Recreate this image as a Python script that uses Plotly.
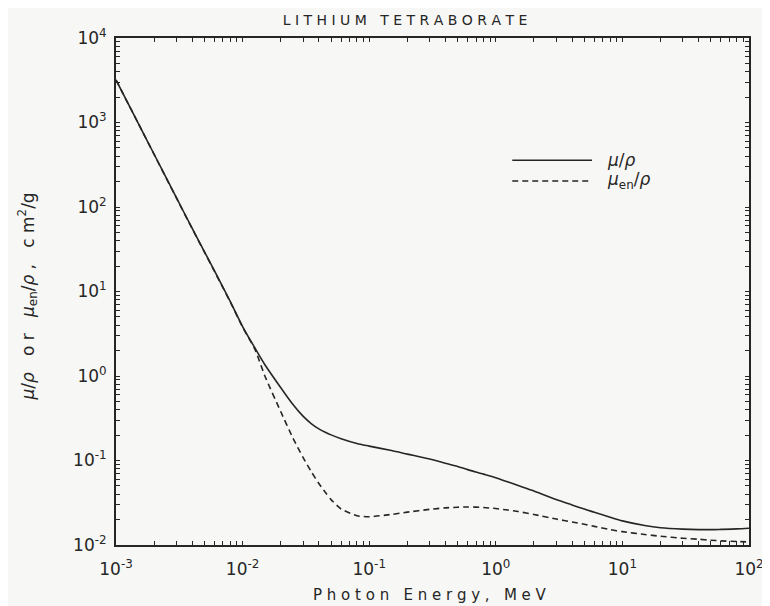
import plotly.graph_objects as go

# Photon energy, MeV
energy = [0.001, 0.0015, 0.002, 0.003, 0.004, 0.005, 0.006, 0.008, 0.01, 0.0125,
          0.015, 0.02, 0.025, 0.03, 0.035, 0.04, 0.045, 0.05, 0.06, 0.08, 0.1, 0.15, 0.2, 0.3, 0.4,
          0.5, 0.6, 0.8, 1.0, 1.25, 1.5, 2.0, 3.0, 4.0, 5.0, 6.0, 8.0, 10.0,
          15.0, 20.0, 30.0, 40.0, 50.0, 60.0, 80.0, 100.0]

# mass attenuation coefficient mu/rho, cm2/g
mu_rho = [3190, 977, 421, 129, 55.7, 29.5, 17.5, 7.6, 3.85, 2.15,
          1.36, 0.73, 0.46, 0.335, 0.272, 0.237, 0.216, 0.201, 0.181, 0.159, 0.148, 0.131, 0.119, 0.104, 0.093,
          0.085, 0.078, 0.069, 0.0625, 0.0556, 0.0506, 0.0436, 0.0345, 0.0298, 0.0266, 0.0244, 0.0213, 0.0193,
          0.0170, 0.0160, 0.0154, 0.0152, 0.0152, 0.0153, 0.0155, 0.0158]

# mass energy-absorption coefficient mu_en/rho, cm2/g
mu_en_rho = [3180, 975, 419, 128, 55.3, 29.2, 17.3, 7.5, 3.78, 2.08,
             1.0, 0.38, 0.184, 0.109, 0.073, 0.0535, 0.042, 0.0344, 0.0267, 0.0222, 0.0216, 0.0230, 0.0245, 0.0264, 0.0275,
             0.0280, 0.0282, 0.0278, 0.0270, 0.0259, 0.0249, 0.0230, 0.0203, 0.0187, 0.0176, 0.0166, 0.0152, 0.0144,
             0.0133, 0.0127, 0.0120, 0.0117, 0.0114, 0.0112, 0.0110, 0.01086]

x_decades = [-3, -2, -1, 0, 1, 2]
y_decades = [-2, -1, 0, 1, 2, 3, 4]
minor_mult = [2, 3, 4, 5, 6, 7, 8, 9]


def log_ticks(decades):
    vals = [10.0 ** d for d in decades]
    text = ["10<sup>%d</sup>" % d for d in decades]
    for d in decades[:-1]:
        for m in minor_mult:
            vals.append(m * 10.0 ** d)
            text.append("")
    return vals, text


x_tickvals, x_ticktext = log_ticks(x_decades)
y_tickvals, y_ticktext = log_ticks(y_decades)

ink = "#262626"
bg = "#f7f7f5"
fontfam = "DejaVu Sans, Verdana, sans-serif"
dash = "6px,4px"

fig = go.Figure()
fig.add_trace(go.Scatter(x=energy, y=mu_rho, mode="lines", name="μ/ρ",
                         line=dict(color=ink, width=1.6, shape="spline", smoothing=0.8),
                         showlegend=False))
fig.add_trace(go.Scatter(x=energy, y=mu_en_rho, mode="lines", name="μen/ρ",
                         line=dict(color=ink, width=1.6, dash=dash, shape="spline", smoothing=0.6),
                         showlegend=False))

axis = dict(
    type="log", showgrid=False, zeroline=False, automargin=False,
    showline=True, linecolor=ink, linewidth=2, mirror="ticks",
    ticks="inside", ticklen=4, tickwidth=1.3, tickcolor=ink,
    tickfont=dict(family=fontfam, size=17, color=ink),
)

fig.update_xaxes(range=[-3, 2], tickvals=x_tickvals, ticktext=x_ticktext,
                 ticklabelstandoff=8, **axis)
fig.update_yaxes(range=[-2, 4], tickvals=y_tickvals, ticktext=y_ticktext,
                 ticklabelstandoff=4, **axis)

# axis titles
fig.add_annotation(xref="paper", yref="paper", x=0.496, y=-0.099, xanchor="center", yanchor="middle",
                   text="P h o t o n   E n e r g y ,   M e V", showarrow=False,
                   font=dict(family=fontfam, size=15, color=ink))
fig.add_annotation(xref="paper", yref="paper", x=-0.139, y=0.49, xanchor="center", yanchor="middle",
                   textangle=-90, showarrow=False,
                   text="<i>μ</i>/<i>ρ</i>   o r   <i>μ</i><sub>en</sub>/<i>ρ</i> ,   c m<sup>2</sup>/g",
                   font=dict(family=fontfam, size=17, color=ink))

# legend drawn as keys in paper coordinates
leg_x0, leg_x1, leg_tx = 0.626, 0.752, 0.773
leg_y1, leg_y2 = 0.759, 0.718
fig.add_shape(type="line", xref="paper", yref="paper", x0=leg_x0, x1=leg_x1, y0=leg_y1, y1=leg_y1,
              line=dict(color=ink, width=1.6))
fig.add_shape(type="line", xref="paper", yref="paper", x0=leg_x0, x1=leg_x1, y0=leg_y2, y1=leg_y2,
              line=dict(color=ink, width=1.6, dash=dash))
fig.add_annotation(xref="paper", yref="paper", x=leg_tx, y=leg_y1, xanchor="left", yanchor="middle",
                   text="<i>μ</i>/<i>ρ</i>", showarrow=False, font=dict(family=fontfam, size=17, color=ink))
fig.add_annotation(xref="paper", yref="paper", x=leg_tx, y=leg_y2, xanchor="left", yanchor="middle",
                   text="<i>μ</i><sub>en</sub>/<i>ρ</i>", showarrow=False, font=dict(family=fontfam, size=17, color=ink))

# the page places the figure 8 px from the top-left corner, so the figure is
# sized to fill the rest of the 770x606 window
fig.update_layout(
    width=762, height=598,
    margin=dict(l=108, r=21, t=30, b=61),
    paper_bgcolor=bg, plot_bgcolor=bg,
    title=dict(text="L I T H I U M   T E T R A B O R A T E", x=397 / 762, xanchor="center",
               y=1 - 12 / 598, yanchor="middle", automargin=False,
               font=dict(family=fontfam, size=14, color=ink)),
)

fig.write_html("out.html")
